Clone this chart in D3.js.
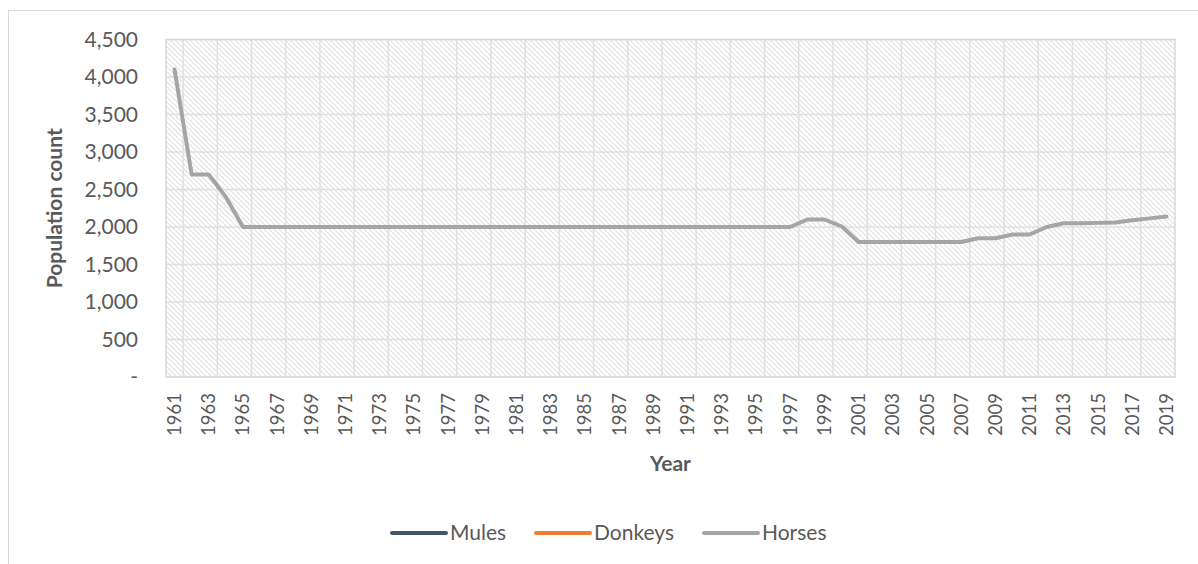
<!DOCTYPE html>
<html lang="en">
  <head>
    <meta charset="UTF-8" />
    <title>Livestock population</title>
    <script src="https://cdn.jsdelivr.net/npm/d3@7"></script>
    <style>
      html,
      body {
        margin: 0;
        padding: 0;
        background: #fff;
      }
      svg {
        display: block;
        font-family: Lato, 'Open Sans', sans-serif;
      }
    </style>
  </head>
  <body>
    <svg width="1198" height="564"></svg>
    <script>
      const years = d3.range(1961, 2020).map(String);
      const horses = [
        4100, 2700, 2700, 2400, 2000, 2000, 2000, 2000, 2000, 2000,
        2000, 2000, 2000, 2000, 2000, 2000, 2000, 2000, 2000, 2000,
        2000, 2000, 2000, 2000, 2000, 2000, 2000, 2000, 2000, 2000,
        2000, 2000, 2000, 2000, 2000, 2000, 2000, 2100, 2100, 2010,
        1800, 1800, 1800, 1800, 1800, 1800, 1800, 1850, 1850, 1900,
        1900, 2000, 2050, 2050, 2055, 2060, 2090, 2115, 2140
      ];
      // no values shown for these two, only in the legend
      const mules = [];
      const donkeys = [];
      const yTicks = [0, 500, 1000, 1500, 2000, 2500, 3000, 3500, 4000, 4500];

      const series = [
        { name: 'Mules', color: '#44546a', values: mules },
        { name: 'Donkeys', color: '#ed7d31', values: donkeys },
        { name: 'Horses', color: '#a5a5a5', values: horses }
      ];

      const svg = d3.select('svg');
      const pL = 166, pR = 1175, pT = 39.5, pB = 377;

      // chart frame
      svg.append('rect')
        .attr('x', 8.5).attr('y', 10.5)
        .attr('width', 1200).attr('height', 570)
        .attr('fill', '#fff')
        .attr('stroke', '#d9d9d9');

      const x = d3.scaleBand().domain(years).range([pL, pR]).padding(0);
      const y = d3.scaleLinear().domain([0, 4500]).range([pB, pT]);
      const bw = x.bandwidth();

      const defs = svg.append('defs');
      const pat = defs.append('pattern')
        .attr('id', 'hatch')
        .attr('patternUnits', 'userSpaceOnUse')
        .attr('width', 5).attr('height', 5);
      pat.append('rect').attr('width', 5).attr('height', 5).attr('fill', '#fff');
      pat.append('path')
        .attr('d', 'M-1,-1 L6,6 M-1,4 L1,6 M4,-1 L6,1')
        .attr('stroke', '#e2e2e2')
        .attr('stroke-width', 1.1);

      svg.append('rect')
        .attr('x', pL).attr('y', pT)
        .attr('width', pR - pL).attr('height', pB - pT)
        .attr('fill', 'url(#hatch)');

      // gridlines
      const grid = svg.append('g').attr('stroke', '#e0e0e0').attr('stroke-width', 1.5);
      grid.selectAll('line.h')
        .data(yTicks)
        .join('line')
        .attr('class', 'h')
        .attr('x1', pL).attr('x2', pR)
        .attr('y1', d => y(d)).attr('y2', d => y(d));
      const vIdx = years.map((d, i) => i).filter(i => i % 2 === 1);
      grid.selectAll('line.v')
        .data(vIdx)
        .join('line')
        .attr('class', 'v')
        .attr('x1', i => x(years[i])).attr('x2', i => x(years[i]))
        .attr('y1', pT).attr('y2', pB);
      svg.append('rect')
        .attr('x', pL).attr('y', pT)
        .attr('width', pR - pL).attr('height', pB - pT)
        .attr('fill', 'none')
        .attr('stroke', '#d9d9d9')
        .attr('stroke-width', 1.5);

      // axes
      const yAxis = d3.axisLeft(y)
        .tickValues(yTicks)
        .tickSize(0)
        .tickPadding(28)
        .tickFormat(d => (d === 0 ? '-' : d3.format(',')(d)));
      const gy = svg.append('g').attr('transform', `translate(${pL},0)`).call(yAxis);
      gy.select('.domain').remove();
      gy.selectAll('text')
        .attr('fill', '#595959')
        .style('font-size', '21px')
        .style('font-family', 'Lato, sans-serif');

      const xAxis = d3.axisBottom(x)
        .tickValues(years.filter((d, i) => i % 2 === 0))
        .tickSize(0);
      const gx = svg.append('g').attr('transform', `translate(0,${pB})`).call(xAxis);
      gx.select('.domain').remove();
      gx.selectAll('text')
        .attr('fill', '#595959')
        .style('font-size', '18.5px')
        .style('font-family', 'Lato, sans-serif')
        .attr('text-anchor', 'end')
        .attr('transform', 'rotate(-90)')
        .attr('x', -16)
        .attr('y', 0)
        .attr('dy', '0.35em');

      // titles
      svg.append('text')
        .attr('x', (pL + pR) / 2).attr('y', 471)
        .attr('text-anchor', 'middle')
        .attr('fill', '#595959')
        .style('font-size', '21px')
        .style('font-weight', 'bold')
        .text('Year');
      svg.append('text')
        .attr('transform', `translate(62,${(pT + pB) / 2}) rotate(-90)`)
        .attr('text-anchor', 'middle')
        .attr('fill', '#595959')
        .style('font-size', '21px')
        .style('font-weight', 'bold')
        .text('Population count');

      // lines
      const line = d3.line()
        .x((d, i) => x(years[i]) + bw / 2)
        .y(d => y(d));
      svg.selectAll('path.series')
        .data(series.filter(s => s.values.length))
        .join('path')
        .attr('class', 'series')
        .attr('fill', 'none')
        .attr('stroke', s => s.color)
        .attr('stroke-width', 4)
        .attr('stroke-linejoin', 'round')
        .attr('stroke-linecap', 'round')
        .attr('d', s => line(s.values));

      // legend
      const legendX = [392, 536, 704];
      const lg = svg.append('g')
        .selectAll('g')
        .data(series)
        .join('g')
        .attr('transform', (s, i) => `translate(${legendX[i]},533)`);
      lg.append('line')
        .attr('x1', 0).attr('x2', 54)
        .attr('stroke', s => s.color)
        .attr('stroke-width', 4)
        .attr('stroke-linecap', 'round');
      lg.append('text')
        .attr('x', 58)
        .attr('dy', '0.35em')
        .attr('fill', '#595959')
        .style('font-size', '21px')
        .text(s => s.name);
    </script>
  </body>
</html>
